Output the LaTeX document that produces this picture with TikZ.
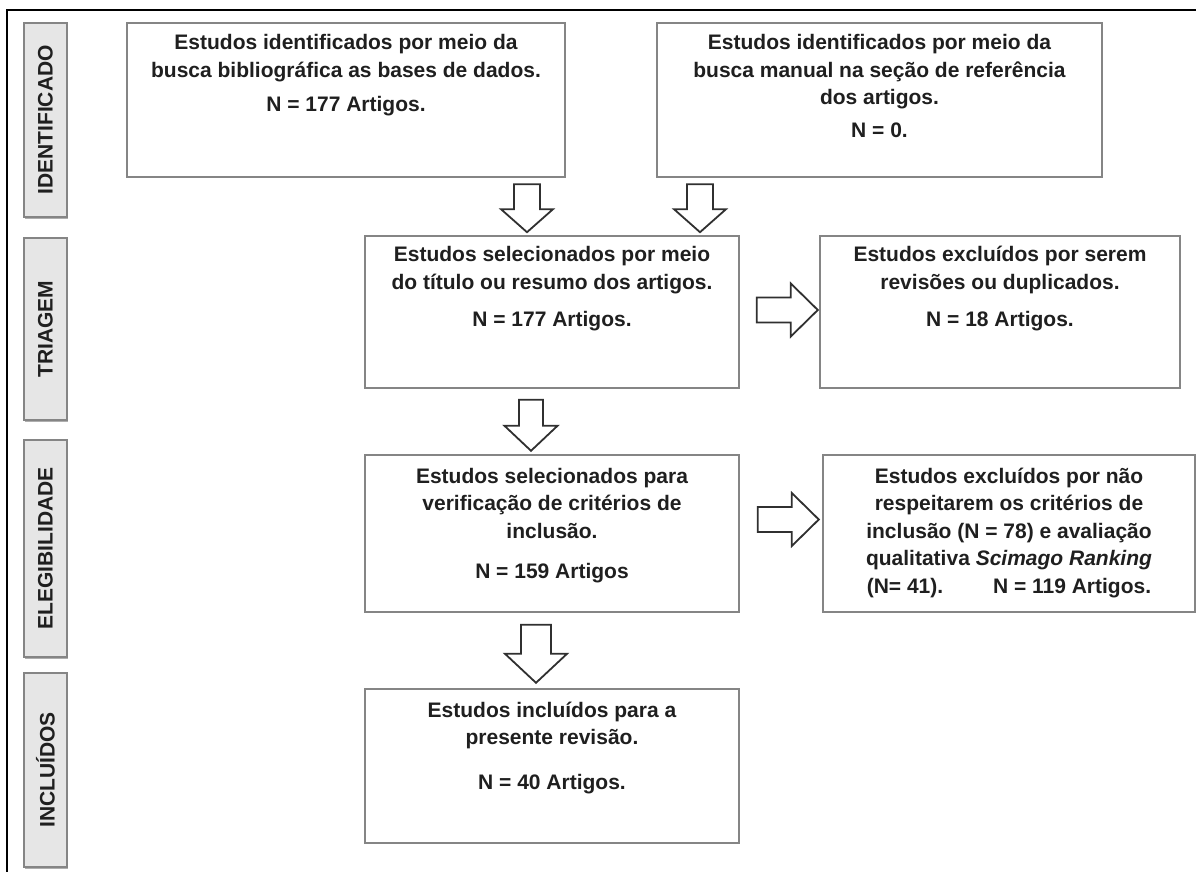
\documentclass[tikz,border=0pt]{standalone}
\usepackage{fontspec}
\setmainfont{Liberation Sans}
\usetikzlibrary{calc,shadows}

\definecolor{rahmen}{HTML}{858585}
\definecolor{pfeil}{HTML}{303030}
\definecolor{phasefill}{HTML}{E6E6E6}

\tikzset{
  kasten/.style={draw=rahmen, line width=1.6pt, inner sep=0pt},
  inhalt/.style={anchor=north, align=center, inner sep=0pt, text=black!88,
    font=\bfseries\fontsize{21}{27.5}\selectfont},
  phase/.style={draw=rahmen, fill=phasefill, line width=1.4pt, rotate=90,
    minimum height=43pt, inner sep=0pt, text=black!88,
    font=\bfseries\fontsize{21}{25}\selectfont,
    drop shadow={shadow xshift=1.2pt, shadow yshift=-1.8pt, fill=black!45, opacity=0.7}},
  blockpfeil/.style={draw=pfeil, fill=white, line width=1.8pt, line join=miter},
  pics/runter/.style args={#1/#2/#3/#4}{code={
    \draw[blockpfeil] (-#1,0) -- (#1,0) -- (#1,#4) -- (#2,#4) -- (0,#3)
      -- (-#2,#4) -- (-#1,#4) -- cycle;
  }}
}

\begin{document}
\begin{tikzpicture}[x=1pt, y=-1pt]
  \useasboundingbox (0,0) rectangle (1196,872);

  % Rahmen
  \draw[line width=1.8pt] (7,872) -- (7,10) -- (1196,10);

  % Phasen links
  \node[phase, minimum width=194pt] (ident) at (45.5,120) {IDENTIFICADO};
  \node[phase, minimum width=182pt] (triag) at (45.5,329) {TRIAGEM};
  \node[phase, minimum width=217pt] (eleg) at (45.5,548.5) {ELEGIBILIDADE};
  \node[phase, minimum width=194pt] (incl) at (45.5,770) {INCLUÍDOS};

  % Kaesten
  \node[kasten, minimum width=438pt, minimum height=154pt] (A) at (346,100) {};
  \node[kasten, minimum width=445pt, minimum height=154pt] (B) at (879.5,100) {};
  \node[kasten, minimum width=374pt, minimum height=152pt] (C) at (552,312) {};
  \node[kasten, minimum width=360pt, minimum height=152pt] (D) at (1000,312) {};
  \node[kasten, minimum width=374pt, minimum height=157pt] (E) at (552,533.5) {};
  \node[kasten, minimum width=372pt, minimum height=157pt] (F) at (1009,533.5) {};
  \node[kasten, minimum width=374pt, minimum height=154pt] (G) at (552,766) {};

  % Texte
  \node[inhalt] (Atxt) at ([yshift=-8pt]A.north)
    {\strut Estudos identificados por meio da\\ busca bibliográfica as bases de dados.\\[7pt]
     N = 177 Artigos.};
  \node[inhalt] (Btxt) at ([yshift=-8pt]B.north)
    {\strut Estudos identificados por meio da\\ busca manual na seção de referência\\
     dos artigos.\\[5.5pt] N = 0.};
  \node[inhalt] (Ctxt) at ([yshift=-7pt]C.north)
    {\strut Estudos selecionados por meio\\ do título ou resumo dos artigos.\\[10pt]
     N = 177 Artigos.};
  \node[inhalt] (Dtxt) at ([yshift=-7pt]D.north)
    {\strut Estudos excluídos por serem\\ revisões ou duplicados.\\[10pt]
     N = 18 Artigos.};
  \node[inhalt] (Etxt) at ([yshift=-9.5pt]E.north)
    {\strut Estudos selecionados para\\ verificação de critérios de\\ inclusão.\\[12.5pt]
     N = 159 Artigos};
  \node[inhalt] (Ftxt) at ([yshift=-9.5pt]F.north)
    {\strut Estudos excluídos por não\\ respeitarem os critérios de\\
     inclusão (N = 78) e avaliação\\ qualitativa \textit{Scimago Ranking}\\
     (N= 41).\hspace{42pt} N = 119 Artigos.};
  \node[inhalt] (Gtxt) at ([yshift=-9.5pt]G.north)
    {\strut Estudos incluídos para a\\ presente revisão.\\[17.5pt] N = 40 Artigos.};

  % Blockpfeile
  \pic at ($(C.north)+(-25,-51)$) {runter={13/26/48/25}};
  \pic at ($(C.north)+(148,-51)$) {runter={13/26/48/25}};
  \pic at ($(C.south)+(-21,11)$) {runter={12/26.5/51/26}};
  \pic at ($(E.south)+(-16,12)$) {runter={15/31/58/29}};
  \pic[rotate=90] at ($(C.east)+(17,-2)$) {runter={12.5/26.5/61/34}};
  \pic[rotate=90] at ($(E.east)+(18,-14)$) {runter={12.5/26.5/61/34}};

\end{tikzpicture}
\end{document}
